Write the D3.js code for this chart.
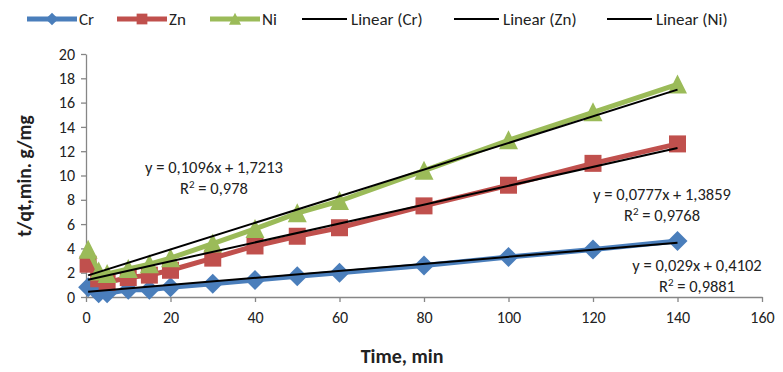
<!DOCTYPE html>
<html>
<head>
<meta charset="utf-8">
<script src="https://cdn.jsdelivr.net/npm/d3@7"></script>
<style>
  body { margin: 0; background: #fff; }
  text { font-family: Carlito, "Liberation Sans Narrow", "Open Sans", sans-serif; fill: #222; }
</style>
</head>
<body>
<svg id="chart"></svg>
<script>
// sampling times, min
let times = [0.5, 3, 5, 10, 15, 20, 30, 40, 50, 60, 80, 100, 120, 140]
// t/qt values per metal
let cr = [0.8, 0.3, 0.3, 0.6, 0.6, 0.8, 1.1, 1.4, 1.7, 2.0, 2.6, 3.3, 3.9, 4.6]
let zn = [2.7, 1.5, 1.2, 1.6, 1.8, 2.2, 3.2, 4.2, 5.0, 5.7, 7.5, 9.2, 11.0, 12.6]
let ni = [3.9, 2.1, 1.9, 2.3, 2.7, 3.2, 4.4, 5.6, 6.9, 7.9, 10.4, 12.9, 15.2, 17.5]
// linear fits: slope, intercept, R2
let fitSlope = [0.029, 0.0777, 0.1096]
let fitIntercept = [0.4102, 1.3859, 1.7213]
let fitR2 = ['0,9881', '0,9768', '0,978']
let eqText = ['y = 0,029x + 0,4102', 'y = 0,0777x + 1,3859', 'y = 0,1096x + 1,7213']
let names = ['Cr', 'Zn', 'Ni']
let xTicks = d3.range(0, 161, 20)
let yTicks = d3.range(0, 21, 2)

let W = 783, H = 372
let svg = d3.select('#chart')
svg.attr('width', W).attr('height', H)

let x = d3.scaleLinear().domain([0, 160]).range([86, 762])
let y = d3.scaleLinear().domain([0, 20]).range([297, 54])

let colors = ['#4a7ebb', '#c0504d', '#9bbb59']

// marker shapes
let diamond = {
  draw(ctx, size) {
    let r = Math.sqrt(size) / 2
    ctx.moveTo(0, -r); ctx.lineTo(r, 0); ctx.lineTo(0, r); ctx.lineTo(-r, 0); ctx.closePath()
  }
}
let square = {
  draw(ctx, size) {
    let r = Math.sqrt(size) / 2
    ctx.rect(-r, -r, 2 * r, 2 * r)
  }
}
let triangle = {
  draw(ctx, size) {
    let r = Math.sqrt(size) / 2
    ctx.moveTo(0, -r * 1.05); ctx.lineTo(r, r * 0.95); ctx.lineTo(-r, r * 0.95); ctx.closePath()
  }
}
let shapes = [diamond, square, triangle]
let sizes = [20 * 20, 17 * 17, 19 * 19]

// axes
let axisColor = '#868686'
let gx = svg.append('g').attr('transform', `translate(0,${y(0)})`)
  .call(d3.axisBottom(x).tickValues(xTicks).tickSize(5).tickSizeOuter(0).tickPadding(10))
let gy = svg.append('g').attr('transform', `translate(${x(0)},0)`)
  .call(d3.axisLeft(y).tickValues(yTicks).tickSize(5).tickSizeOuter(0).tickPadding(6))
;[gx, gy].forEach(g => {
  g.selectAll('path, line').attr('stroke', axisColor).attr('stroke-width', 1.3)
  g.selectAll('text').style('font-size', '16px').attr('fill', '#222')
})

// series
let series = [cr, zn, ni]
let line = d3.line().x((d, i) => x(times[i])).y(d => y(d))
series.forEach((vals, k) => {
  let g = svg.append('g')
  g.append('path').datum(vals).attr('d', line)
    .attr('fill', 'none').attr('stroke', colors[k]).attr('stroke-width', 5).attr('stroke-linejoin', 'round')
  g.selectAll('path.m').data(vals).enter().append('path')
    .attr('class', 'm')
    .attr('transform', (d, i) => `translate(${x(times[i])},${y(d)})`)
    .attr('d', d3.symbol().type(shapes[k]).size(sizes[k]))
    .attr('fill', colors[k])
})

// trend lines over the markers
let t0 = times[0], t1 = times[times.length - 1]
fitSlope.forEach((m, k) => {
  svg.append('line')
    .attr('x1', x(t0)).attr('y1', y(m * t0 + fitIntercept[k]))
    .attr('x2', x(t1)).attr('y2', y(m * t1 + fitIntercept[k]))
    .attr('stroke', '#000').attr('stroke-width', 2)
})

// equation labels
let eqPos = [[697, 271], [662, 200], [214, 173]]
eqPos.forEach((p, k) => {
  svg.append('text').attr('x', p[0]).attr('y', p[1]).attr('text-anchor', 'middle')
    .style('font-size', '16.5px').text(eqText[k])
  let r = svg.append('text').attr('x', p[0]).attr('y', p[1] + 21).attr('text-anchor', 'middle')
    .style('font-size', '16.5px')
  r.append('tspan').text('R')
  r.append('tspan').attr('dy', -6).style('font-size', '11px').text('2')
  r.append('tspan').attr('dy', 6).text(' = ' + fitR2[k])
})

// axis titles
svg.append('text').attr('x', 402).attr('y', 363).attr('text-anchor', 'middle')
  .style('font-size', '20px').style('font-weight', 'bold').text('Time, min')
svg.append('text').attr('transform', 'translate(31,176) rotate(-90)').attr('text-anchor', 'middle')
  .style('font-size', '19.5px').style('font-weight', 'bold').text('t/qt,min. g/mg')

// legend
let legend = svg.append('g').attr('transform', 'translate(0,19)')
let legX = [27, 117, 210]
names.forEach((n, k) => {
  let lg = legend.append('g').attr('transform', `translate(${legX[k]},0)`)
  lg.append('line').attr('x1', 0).attr('x2', 50).attr('stroke', colors[k]).attr('stroke-width', 5)
  lg.append('path').attr('transform', 'translate(25,0)')
    .attr('d', d3.symbol().type(shapes[k]).size(sizes[k] * 0.4)).attr('fill', colors[k])
  lg.append('text').attr('x', 52).attr('dy', '0.35em').style('font-size', '17px').text(n)
})
let linX = [302, 454, 607]
names.forEach((n, k) => {
  let lg = legend.append('g').attr('transform', `translate(${linX[k]},0)`)
  lg.append('line').attr('x1', 0).attr('x2', 45).attr('stroke', '#000').attr('stroke-width', 2)
  lg.append('text').attr('x', 49).attr('dy', '0.35em').style('font-size', '17px').text(`Linear (${n})`)
})
</script>
</body>
</html>
